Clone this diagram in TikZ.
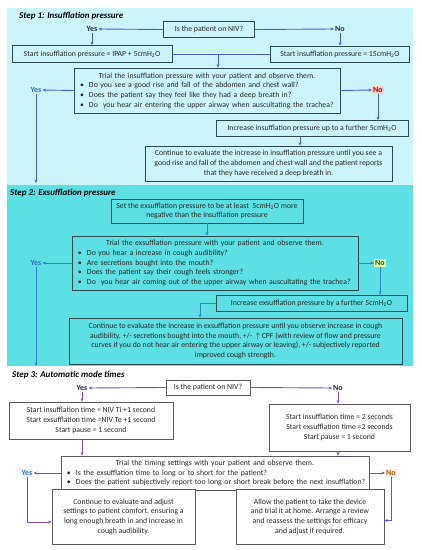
\documentclass[tikz,border=0pt]{standalone}
\usepackage{fontspec}
\setmainfont{Carlito}
\usetikzlibrary{arrows.meta}
\definecolor{stepone}{HTML}{CCF5FA}
\definecolor{steptwo}{HTML}{5CE0E6}
\definecolor{lineone}{HTML}{2B4A4F}
\definecolor{linethree}{HTML}{595959}
\definecolor{arrone}{HTML}{4B5BD0}
\definecolor{arrtwo}{HTML}{2F80D0}
\definecolor{arrthree}{HTML}{7A4CC8}
\definecolor{yesblue}{HTML}{2E75B6}
\definecolor{darktext}{HTML}{1F2A44}
\newcommand{\bul}[1]{\mbox{\hspace*{4bp}\makebox[9bp][l]{\textbullet}#1}}
\tikzset{
  box/.style={draw=lineone, line width=0.8pt, inner sep=2pt, align=center,
    font=\fontsize{7.8}{9.7}\selectfont, text=black!85},
  greybox/.style={box, draw=linethree, fill=white},
  answer/.style={inner sep=1pt, font=\fontsize{8}{9}\selectfont\bfseries},
  steptitle/.style={anchor=west, inner sep=0pt, font=\fontsize{9}{10}\selectfont\bfseries\itshape},
  arr/.style={-{Stealth[length=3.5pt,width=3pt]}, line width=0.9pt, draw=arrone},
}
\begin{document}
\begin{tikzpicture}[x=1bp, y=-1bp]
\useasboundingbox (0,0) rectangle (421,550);
\fill[stepone] (7,8) rectangle (413,185);
\fill[steptwo] (7,185) rectangle (413,366);

% step 1
\node[steptitle] (title1) at (19,16) {Step 1: Insufflation pressure};
\node[box, minimum width=91bp, minimum height=16bp] (niv1) at (209,29.5) {Is the patient on NIV?};
\node[answer, text=darktext] (yes1) at (92,29) {Yes};
\node[answer, text=darktext] (no1) at (340,29) {No};
\node[box, minimum width=160bp, minimum height=17bp] (start1a) at (92,54) {Start insufflation pressure = IPAP + 5cmH\textsubscript{2}O};
\node[box, minimum width=139bp, minimum height=16bp] (start1b) at (340,54) {Start insufflation pressure = 15cmH\textsubscript{2}O};
\coordinate (join1) at (218,54);
\node[box, text width=262bp, minimum height=45bp, align=left] (trial1) at (207,90.5)
  {{\centering Trial the insufflation pressure with your patient and observe them.\par}
   \bul{Do you see a good rise and fall of the abdomen and chest wall?}\\
   \bul{Does the patient say they feel like they had a deep breath in?}\\
   \bul{Do\ \ you hear air entering the upper airway when auscultating the trachea?}};
\node[answer, text=yesblue] (yes1b) at (36,90) {Yes};
\node[answer, text=red!75!black, fill=red!20] (no1b) at (378,90) {No};
\coordinate (end1) at (36,183);
\node[box, minimum width=192bp, minimum height=16bp] (inc1) at (312,128.5) {Increase insufflation pressure up to a further 5cmH\textsubscript{2}O};
\node[box, minimum width=247bp, minimum height=35bp] (cont1) at (268.5,163.5)
  {Continue to evaluate the increase in insufflation pressure until you see a\\
   good rise and fall of the abdomen and chest wall and the patient reports\\
   that they have received a deep breath in.};

\draw[arr] (niv1.west) -- (yes1.east);
\draw[arr] (niv1.east) -- (no1.west);
\draw[arr] (yes1) -- (start1a);
\draw[arr] (no1) -- (start1b);
\draw[line width=0.9pt, arrone] (start1a.east) -- (start1b.west);
\draw[arr] (join1) -- (join1 |- trial1.north);
\draw[arr] (trial1.west) -- (yes1b.east);
\draw[arr] (trial1.east) -- (no1b.west);
\draw[arr] (yes1b) -- (end1);
\draw[arr] (no1b) -- (no1b |- inc1.north);
\draw[arr] ([xshift=-12bp]inc1.south) -- ([xshift=-12bp]inc1.south |- cont1.north);

% step 2
\node[steptitle] (title2) at (10,193) {Step 2: Exsufflation pressure};
\node[box, minimum width=192bp, minimum height=24bp] (set2) at (207,211)
  {Set the exsufflation pressure to be at least\ \ 5cmH\textsubscript{2}O more\\
   negative than the insufflation pressure};
\node[box, text width=282bp, minimum height=54bp, align=left] (trial2) at (215,263)
  {{\centering Trial the exsufflation pressure with your patient and observe them.\par}
   \bul{Do you hear a increase in cough audibility?}\\
   \bul{Are secretions bought into the mouth?}\\
   \bul{Does the patient say their cough feels stronger?}\\
   \bul{Do\ \ you hear air coming out of the upper airway when auscultating the trachea?}};
\node[answer, text=yesblue] (yes2) at (36,263) {Yes};
\node[answer, text=green!45!black, fill=green!25!yellow!30] (no2) at (380,263) {No};
\coordinate (end2) at (36,366);
\node[box, minimum width=191bp, minimum height=16bp] (inc2) at (311.5,303) {Increase exsufflation pressure by a further 5cmH\textsubscript{2}O};
\coordinate (bend2) at (200,303);
\node[box, minimum width=333bp, minimum height=46bp] (cont2) at (235.5,341)
  {Continue to evaluate the increase in exsufflation pressure until you observe increase in cough\\
   audibility, +/- secretions bought into the mouth, +/- \ $\uparrow$ CPF (with review of flow and pressure\\
   curves if you do not hear air entering the upper airway or leaving), +/- subjectively reported\\
   improved cough strength.};

\draw[arr, arrtwo] (set2) -- (set2 |- trial2.north);
\draw[arr, arrtwo] (trial2.west) -- (yes2.east);
\draw[arr, arrtwo] (trial2.east) -- (no2.west);
\draw[arr, arrtwo] (yes2) -- (end2);
\draw[arr, arrtwo] (no2) -- (no2 |- inc2.north);
\draw[arr, arrtwo] (inc2.west) -- (bend2) -- (bend2 |- cont2.north);

% step 3
\node[steptitle] (title3) at (12,375) {Step 3: Automatic mode times};
\node[greybox, minimum width=84bp, minimum height=15bp] (niv3) at (208,387.5) {Is the patient on NIV?};
\node[answer, text=darktext] (yes3) at (82,388) {Yes};
\node[answer, text=darktext] (no3) at (338,388) {No};
\node[greybox, minimum width=164bp, minimum height=37bp] (left3) at (91,420.5)
  {Start insufflation time = NIV Ti +1 second\\
   Start exsufflation time =NIV Te +1 second\\
   Start pause = 1 second};
\node[greybox, minimum width=141bp, minimum height=47bp] (right3) at (339.5,427.5)
  {Start insufflation time = 2 seconds\\
   Start exsufflation time =2 seconds\\
   Start pause = 1 second};
\node[greybox, text width=304bp, minimum height=34bp, align=left] (trial3) at (215,473)
  {{\centering Trial the timing settings with your patient and observe them.\par}
   \bul{Is the exsufflation time to long or to short for the patient?}\\
   \bul{Does the patient subjectively report too long or short break before the next insufflation?}};
\node[answer, text=yesblue, fill=cyan!8] (yes3b) at (27,473) {Yes};
\node[answer, text=orange!70!black, fill=red!8] (no3b) at (391,473) {No};
\node[greybox, minimum width=143bp, minimum height=55bp] (cont3) at (123.5,516.5)
  {Continue to evaluate and adjust\\
   settings to patient comfort, ensuring a\\
   long enough breath in and increase in\\
   cough audibility.};
\node[greybox, minimum width=148bp, minimum height=55bp] (allow3) at (310,516.5)
  {Allow the patient to take the device\\
   and trial it at home. Arrange a review\\
   and reassess the settings for efficacy\\
   and adjust if required.};

\draw[arr, arrthree] (niv3.west) -- (yes3.east);
\draw[arr, arrthree] (niv3.east) -- (no3.west);
\draw[arr, arrthree] (yes3) -- (left3.north -| yes3);
\draw[arr, arrthree] (no3) -- (no3 |- right3.north);
\draw[arr, arrthree] (yes3 |- left3.south) -- (yes3 |- trial3.north);
\draw[arr, arrthree] (no3 |- right3.south) -- (no3 |- trial3.north);
\draw[arr, arrthree] (trial3.west) -- (yes3b.east);
\draw[arr, arrthree] (trial3.east) -- (no3b.west);
\draw[arr, arrthree] (yes3b.south) |- ([yshift=-5.5bp]cont3.west);
\draw[arr, arrthree] (no3b.south) |- ([yshift=-4bp]allow3.east);
\end{tikzpicture}
\end{document}
